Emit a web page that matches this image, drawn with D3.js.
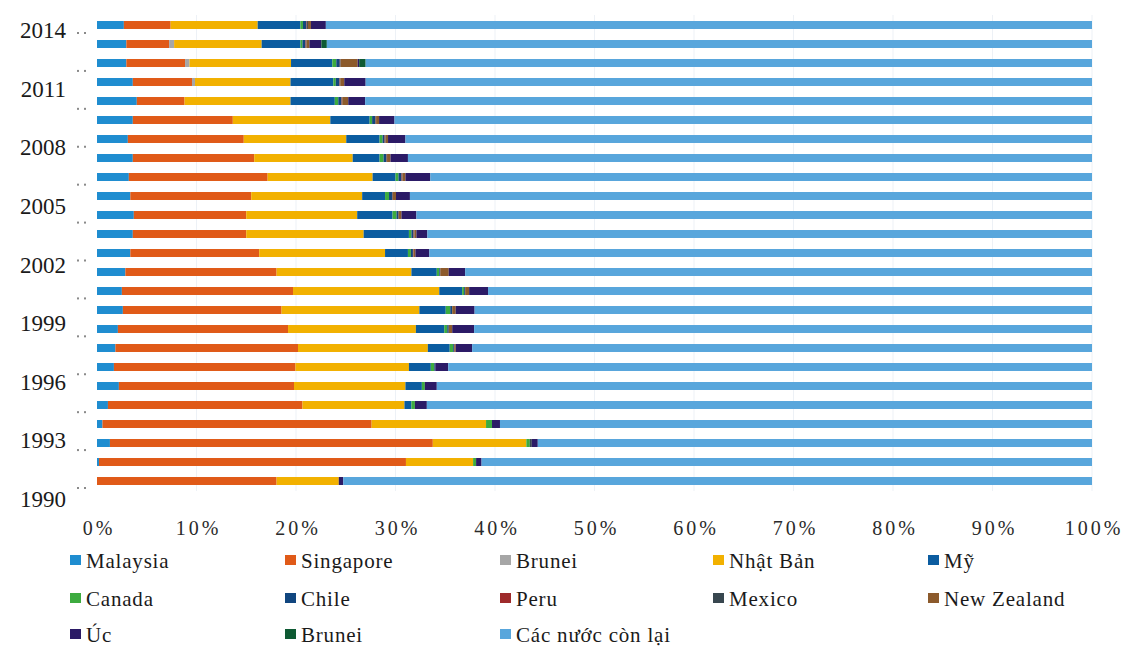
<!DOCTYPE html>
<html>
<head>
<meta charset="utf-8">
<script src="https://cdn.jsdelivr.net/npm/d3@7"></script>
<style>
  html, body { margin: 0; padding: 0; background: #ffffff; }
  svg { display: block; }
  svg text { font-family: "Liberation Serif", "Times New Roman", serif; }
</style>
</head>
<body>
<svg id="chart" width="1122" height="648"></svg>
<script>
// ---------- DATA (percent shares, years 1990 → 2014) ----------
const years = [1990,1991,1992,1993,1994,1995,1996,1997,1998,1999,2000,2001,2002,2003,2004,2005,2006,2007,2008,2009,2010,2011,2012,2013,2014];

const malaysia    = [0,0.2,1.3,0.55,1.1,2.2,1.7,1.85,2.1,2.6,2.5,2.85,3.35,3.6,3.7,3.35,3.2,3.6,3.1,3.6,4.0,3.6,2.95,2.95,2.7];
const singapore   = [18.05,30.85,32.45,27.05,19.55,17.6,18.25,18.35,17.1,15.95,17.2,15.2,12.95,11.4,11.3,12.15,13.95,12.2,11.65,10.05,4.8,5.95,5.9,4.3,4.7];
const bruneiGray  = [0,0,0,0,0,0,0,0,0,0,0,0,0,0,0,0,0,0,0,0,0,0.3,0.45,0.5,0];
const nhatBan     = [6.25,6.75,9.4,11.5,10.25,11.2,11.4,13.05,12.85,13.85,14.7,13.55,12.65,11.8,11.15,11.15,10.55,9.9,10.3,9.8,10.65,9.6,10.2,8.8,8.75];
const my          = [0,0,0,0,0.7,1.65,2.2,2.2,2.85,2.65,2.3,2.55,2.3,4.55,3.55,2.3,2.3,2.7,3.35,3.95,4.45,4.3,4.15,3.9,4.3];
const canada      = [0,0.3,0.35,0.6,0.35,0.3,0.35,0.35,0.3,0.45,0.2,0.25,0.3,0.25,0.4,0.4,0.3,0.4,0.3,0.25,0.35,0.25,0.4,0.2,0.25];
const chile       = [0,0,0,0,0,0,0.1,0.1,0.15,0.2,0.1,0.1,0.2,0.2,0.15,0.3,0.3,0.25,0.2,0.3,0.3,0.35,0.35,0.3,0.35];
const peru        = [0,0,0,0,0,0,0,0,0,0,0,0,0.05,0.05,0.05,0.05,0.05,0.05,0.05,0.05,0.05,0.05,0.05,0.05,0.05];
const mexico      = [0,0,0.2,0,0,0,0,0,0,0,0,0,0,0.05,0.05,0.05,0.05,0.05,0.05,0.05,0.05,0.05,0.05,0.05,0.1];
const newZealand  = [0,0,0,0,0,0,0,0.15,0.35,0.35,0.4,0.85,0.2,0.2,0.25,0.3,0.3,0.35,0.25,0.3,0.6,0.4,1.7,0.3,0.3];
const uc          = [0.45,0.55,0.6,0.8,1.2,1.2,1.3,1.65,2.2,1.9,1.9,1.65,1.4,1.1,1.5,1.4,2.5,1.75,1.75,1.55,1.7,2.15,0.15,1.2,1.5];
const bruneiGreen = [0,0,0,0,0,0,0,0,0,0,0,0,0,0,0,0,0,0,0,0,0,0,0.65,0.55,0];
const conLai      = [75.25,61.35,55.7,59.5,66.85,65.85,64.7,62.3,62.1,62.05,60.7,63.0,66.6,66.8,67.9,68.55,66.5,68.75,69.0,70.1,73.05,73.0,73.0,76.9,77.0];

const seriesKeys   = ["malaysia","singapore","bruneiGray","nhatBan","my","canada","chile","peru","mexico","newZealand","uc","bruneiGreen","conLai"];
const seriesLabels = ["Malaysia","Singapore","Brunei","Nhật Bản","Mỹ","Canada","Chile","Peru","Mexico","New Zealand","Úc","Brunei","Các nước còn lại"];
const seriesColors = ["#1f8dd0","#e05a18","#a6a6a6","#f2b100","#0b5ca0","#3dab3f","#11467f","#9e2a2b","#38474f","#8c5a2c","#2b1a66","#0e5a33","#58a6dc"];
const seriesData   = [malaysia,singapore,bruneiGray,nhatBan,my,canada,chile,peru,mexico,newZealand,uc,bruneiGreen,conLai];

const xTicks = [0,10,20,30,40,50,60,70,80,90,100];
const labelYears = [2014,2011,2008,2005,2002,1999,1996,1993,1990];

// ---------- BUILD TABLE ----------
const table = years.map((yr, i) => {
  const row = { year: yr };
  seriesKeys.forEach((k, j) => { row[k] = seriesData[j][i]; });
  return row;
});

const FONT = "'Liberation Serif', 'Times New Roman', serif";
const svg = d3.select("#chart");

const x = d3.scaleLinear().domain([0, 100]).range([97, 1092]);
const y = d3.scaleBand()
  .domain(years.slice().reverse())
  .range([15.5, 490.5])
  .paddingInner(0.58)
  .paddingOuter(0.29);
const color = d3.scaleOrdinal().domain(seriesKeys).range(seriesColors);

// gridlines
svg.append("g").selectAll("line")
  .data(xTicks.filter(d => d > 0))
  .join("line")
  .attr("x1", d => x(d)).attr("x2", d => x(d))
  .attr("y1", 15).attr("y2", 491)
  .attr("stroke", "#edf1f6").attr("stroke-width", 1);

// bars
const stacked = d3.stack().keys(seriesKeys)(table);

svg.append("g").selectAll("g")
  .data(stacked)
  .join("g")
  .attr("fill", d => color(d.key))
  .selectAll("rect")
  .data(d => d)
  .join("rect")
  .attr("x", d => x(d[0]))
  .attr("width", d => Math.max(0, x(d[1]) - x(d[0])))
  .attr("y", d => y(d.data.year))
  .attr("height", y.bandwidth());

// year labels (category axis, every 3rd year)
const yl = d3.scaleLinear().domain([2014, 1990]).range([30, 499]);
svg.append("g").selectAll("text")
  .data(labelYears)
  .join("text")
  .attr("x", 66)
  .attr("y", d => yl(d))
  .attr("dy", "0.35em")
  .attr("text-anchor", "end")
  .attr("font-family", FONT)
  .attr("font-size", 23)
  .attr("fill", "#1a1a1a")
  .text(d => d);

// small dotted tick marks
const tk = d3.scaleLinear().domain([0, 12]).range([33, 488]);
const tickG = svg.append("g");
d3.range(13).forEach(i => {
  [78, 85].forEach(cx => {
    tickG.append("rect")
      .attr("x", cx - 1).attr("y", tk(i) - 1)
      .attr("width", 2).attr("height", 2)
      .attr("fill", "#8a8a8a");
  });
});

// x axis
const xAxis = d3.axisBottom(x).tickValues(xTicks).tickFormat(d => d + "%").tickSize(0).tickPadding(0);
const xg = svg.append("g").attr("transform", "translate(0,521)").call(xAxis);
xg.attr("font-family", FONT);
xg.select(".domain").remove();
xg.selectAll("text")
  .attr("font-family", FONT)
  .attr("font-size", 20)
  .attr("letter-spacing", "3px")
  .attr("fill", "#2a2a2a")
  .attr("dx", "1.5px");

// legend
const colX = [70, 285, 500, 713, 928];
const rowY = [561, 599, 635];
const leg = svg.append("g");
seriesKeys.forEach((k, i) => {
  const cx = colX[i % 5], cy = rowY[Math.floor(i / 5)];
  const g = leg.append("g").attr("transform", `translate(${cx},${cy})`);
  g.append("rect").attr("x", 0).attr("y", -6).attr("width", 11).attr("height", 10).attr("fill", color(k));
  g.append("text")
    .attr("x", 16).attr("y", 0).attr("dy", "0.33em")
    .attr("font-family", FONT)
    .attr("font-size", 21)
    .attr("letter-spacing", "0.8px")
    .attr("fill", "#1a1a1a")
    .text(seriesLabels[i]);
});
</script>
</body>
</html>
